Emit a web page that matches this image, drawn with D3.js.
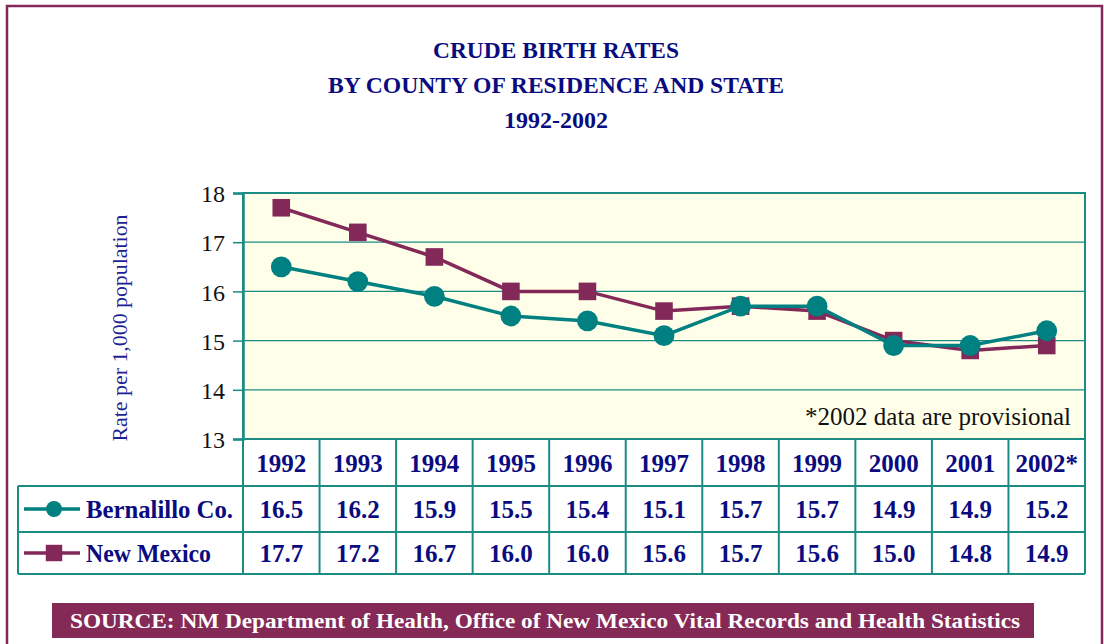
<!DOCTYPE html>
<html>
<head>
<meta charset="utf-8">
<script src="https://cdn.jsdelivr.net/npm/d3@7"></script>
<style>
  body { margin: 0; background: #fff; }
  svg { display: block; font-family: "Liberation Serif", "Times New Roman", serif; }
</style>
</head>
<body>
<svg id="chart" width="1104" height="644"></svg>
<script>
"use strict";

var years = ["1992", "1993", "1994", "1995", "1996", "1997", "1998", "1999", "2000", "2001", "2002"];
var yearLabels = ["1992", "1993", "1994", "1995", "1996", "1997", "1998", "1999", "2000", "2001", "2002*"];
var bernalillo = [16.5, 16.2, 15.9, 15.5, 15.4, 15.1, 15.7, 15.7, 14.9, 14.9, 15.2];
var newMexico = [17.7, 17.2, 16.7, 16.0, 16.0, 15.6, 15.7, 15.6, 15.0, 14.8, 14.9];
var yTicks = [13, 14, 15, 16, 17, 18];
var titleLines = ["CRUDE BIRTH RATES", "BY COUNTY OF RESIDENCE AND STATE", "1992-2002"];

var navy = "#0b0b80";
var teal = "#008080";
var maroon = "#83295a";
var gridTeal = "#1a8c84";

var svg = d3.select("#chart");

// page frame
svg.append("path")
    .attr("d", "M7,644 V6 H1102 V644")
    .attr("fill", "none")
    .attr("stroke", maroon)
    .attr("stroke-width", 2.5);

// title
var titleWidths = [246, 456, 104];
svg.selectAll("text.title")
    .data(titleLines)
    .enter()
    .append("text")
    .attr("class", "title")
    .attr("x", 556)
    .attr("y", function (d, i) { return 58 + i * 35; })
    .attr("text-anchor", "middle")
    .attr("textLength", function (d, i) { return titleWidths[i]; })
    .attr("lengthAdjust", "spacingAndGlyphs")
    .style("font-size", "24px")
    .style("font-weight", "bold")
    .style("fill", navy)
    .text(function (d) { return d; });

var x = d3.scaleBand()
    .domain(years)
    .range([243, 1085]);

var y = d3.scaleLinear()
    .domain([13, 18])
    .range([439, 193]);

// plot background
svg.append("rect")
    .attr("x", 243)
    .attr("y", y(18))
    .attr("width", 1085 - 243)
    .attr("height", y(13) - y(18))
    .attr("fill", "#ffffe9");

// grid
svg.append("g")
    .selectAll("line")
    .data(yTicks)
    .enter()
    .append("line")
    .attr("x1", 243)
    .attr("x2", 1085)
    .attr("y1", function (d) { return y(d); })
    .attr("y2", function (d) { return y(d); })
    .attr("stroke", gridTeal)
    .attr("stroke-width", 1.2);

// frame of plot
svg.append("rect")
    .attr("x", 243)
    .attr("y", y(18))
    .attr("width", 1085 - 243)
    .attr("height", y(13) - y(18))
    .attr("fill", "none")
    .attr("stroke", gridTeal)
    .attr("stroke-width", 2);

// y axis
var yAxis = d3.axisLeft(y)
    .tickValues(yTicks)
    .tickSize(10)
    .tickPadding(8)
    .tickFormat(d3.format("d"));

var yg = svg.append("g")
    .attr("transform", "translate(243,0)")
    .call(yAxis);
yg.select(".domain").attr("stroke", gridTeal).attr("stroke-width", 2.5);
yg.selectAll(".tick line").attr("stroke", gridTeal).attr("stroke-width", 1.5);
yg.selectAll(".tick text")
    .style("font-family", "'Liberation Serif', 'Times New Roman', serif")
    .style("font-size", "24px")
    .attr("fill", "#111")
    .attr("dy", "0.36em");

svg.append("text")
    .attr("transform", "translate(127,328) rotate(-90)")
    .attr("text-anchor", "middle")
    .attr("textLength", 227)
    .attr("lengthAdjust", "spacingAndGlyphs")
    .style("font-size", "21px")
    .style("fill", "#1e1e96")
    .text("Rate per 1,000 population");

svg.append("text")
    .attr("x", 1071)
    .attr("y", 425)
    .attr("text-anchor", "end")
    .attr("textLength", 266)
    .attr("lengthAdjust", "spacingAndGlyphs")
    .style("font-size", "25px")
    .style("fill", "#111")
    .text("*2002 data are provisional");

// series
var series = [
    { name: "Bernalillo Co.", values: bernalillo, color: teal, shape: "circle", width: 147 },
    { name: "New Mexico", values: newMexico, color: maroon, shape: "square", width: 125 }
];

var line = d3.line()
    .x(function (d, i) { return x(years[i]) + x.bandwidth() / 2; })
    .y(function (d) { return y(d); });

var circleSym = d3.symbol().type(d3.symbolCircle).size(340);
var squareSym = d3.symbol().type(d3.symbolSquare).size(310);

[series[1], series[0]].forEach(function (s) {
    svg.append("path")
        .datum(s.values)
        .attr("d", line)
        .attr("fill", "none")
        .attr("stroke", s.color)
        .attr("stroke-width", 3.5);

    svg.append("g")
        .selectAll("path")
        .data(s.values)
        .enter()
        .append("path")
        .attr("transform", function (d, i) {
            return "translate(" + (x(years[i]) + x.bandwidth() / 2) + "," + y(d) + ")";
        })
        .attr("d", s.shape === "circle" ? circleSym() : squareSym())
        .attr("fill", s.color);
});

// data table
var rowTops = [439, 486, 532, 574];
var table = svg.append("g");

table.selectAll("text.year")
    .data(yearLabels)
    .enter()
    .append("text")
    .attr("class", "year")
    .attr("x", function (d, i) { return x(years[i]) + x.bandwidth() / 2; })
    .attr("y", (rowTops[0] + rowTops[1]) / 2 + 9)
    .attr("text-anchor", "middle")
    .style("font-size", "25px")
    .style("font-weight", "bold")
    .style("fill", navy)
    .text(function (d) { return d; });

series.forEach(function (s, r) {
    var cy = (rowTops[r + 1] + rowTops[r + 2]) / 2;
    table.selectAll("text.v" + r)
        .data(s.values)
        .enter()
        .append("text")
        .attr("x", function (d, i) { return x(years[i]) + x.bandwidth() / 2; })
        .attr("y", cy + 9)
        .attr("text-anchor", "middle")
        .style("font-size", "25px")
        .style("font-weight", "bold")
        .style("fill", navy)
        .text(function (d) { return d3.format(".1f")(d); });

    table.append("line")
        .attr("x1", 24).attr("x2", 80)
        .attr("y1", cy).attr("y2", cy)
        .attr("stroke", s.color)
        .attr("stroke-width", 3.5);
    table.append("path")
        .attr("transform", "translate(54," + cy + ")")
        .attr("d", s.shape === "circle" ? d3.symbol().type(d3.symbolCircle).size(200)() : d3.symbol().type(d3.symbolSquare).size(270)())
        .attr("fill", s.color);
    table.append("text")
        .attr("x", 86)
        .attr("y", cy + 9)
        .attr("textLength", s.width)
        .attr("lengthAdjust", "spacingAndGlyphs")
        .style("font-size", "25px")
        .style("font-weight", "bold")
        .style("fill", navy)
        .text(s.name);
});

// table grid
var colEdges = years.map(function (d) { return x(d); }).concat([1085]);
table.selectAll("line.col")
    .data(colEdges)
    .enter()
    .append("line")
    .attr("x1", function (d) { return d; })
    .attr("x2", function (d) { return d; })
    .attr("y1", rowTops[0])
    .attr("y2", rowTops[3])
    .attr("stroke", gridTeal)
    .attr("stroke-width", 2);

table.selectAll("line.row")
    .data(rowTops.slice(1))
    .enter()
    .append("line")
    .attr("x1", 18)
    .attr("x2", 1085)
    .attr("y1", function (d) { return d; })
    .attr("y2", function (d) { return d; })
    .attr("stroke", gridTeal)
    .attr("stroke-width", 2);

table.append("line")
    .attr("x1", 18).attr("x2", 18)
    .attr("y1", rowTops[1]).attr("y2", rowTops[3])
    .attr("stroke", gridTeal)
    .attr("stroke-width", 2);

// source banner
svg.append("rect")
    .attr("x", 52)
    .attr("y", 603)
    .attr("width", 982)
    .attr("height", 35)
    .attr("fill", "#852a57");

svg.append("text")
    .attr("x", 545)
    .attr("y", 628)
    .attr("text-anchor", "middle")
    .attr("textLength", 950)
    .attr("lengthAdjust", "spacingAndGlyphs")
    .style("font-size", "21px")
    .style("font-weight", "bold")
    .style("fill", "#fff")
    .text("SOURCE: NM Department of  Health, Office of New Mexico Vital Records and Health Statistics");
</script>
</body>
</html>
